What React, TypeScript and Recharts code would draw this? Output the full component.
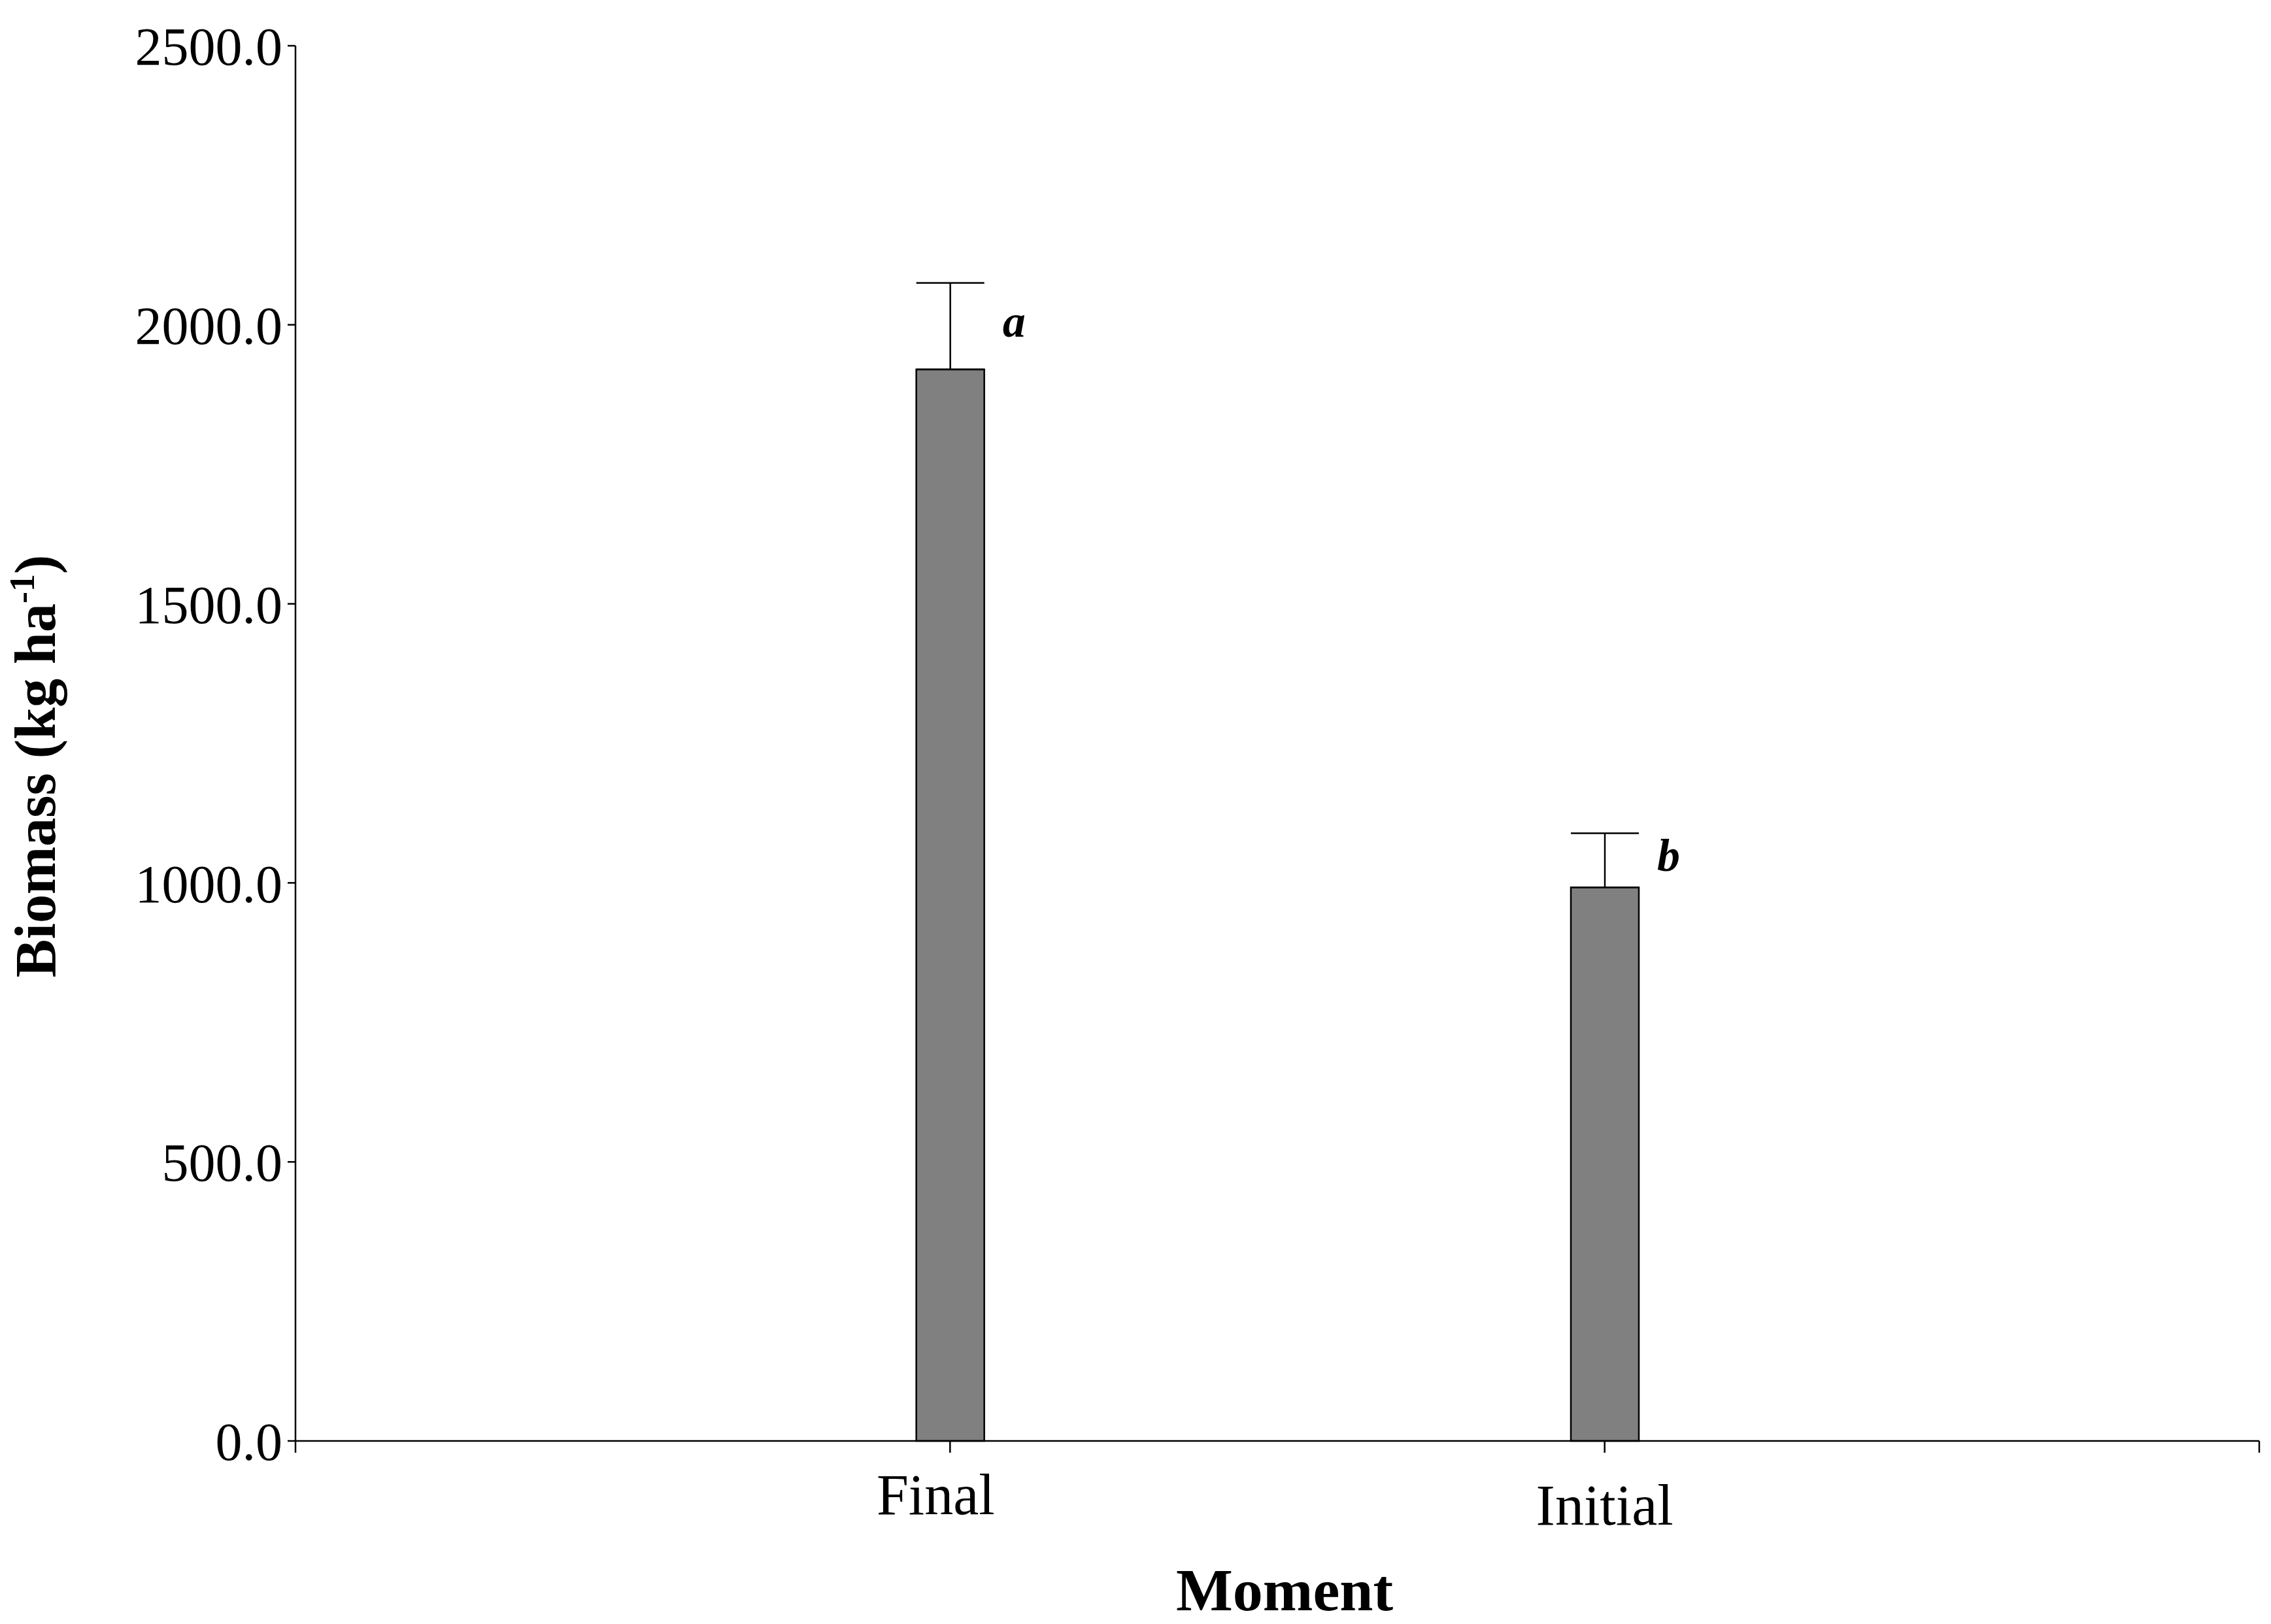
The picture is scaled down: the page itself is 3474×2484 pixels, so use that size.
import React from 'react';
import { BarChart, Bar, XAxis, YAxis, ErrorBar, LabelList } from 'recharts';

document.body.style.margin = '0';

const moments = ['Final', 'Initial'];
const momentPos = [1, 2];
const biomass = [1920, 992];
const errorUp = [155, 97];
const letters = ['a', 'b'];
const yTicks = [0, 500, 1000, 1500, 2000, 2500];
const xTicks = [0, 1, 2, 3];

const data = moments.map((m, i) => ({
  pos: momentPos[i],
  name: m,
  value: biomass[i],
  err: [0, errorUp[i]],
  letter: letters[i],
}));

const FONT = '"Liberation Serif", "Times New Roman", serif';

// per-label nudges so the category labels sit like the original export
const tickNudge: Record<string, { dx: number; dy: number }> = {
  Final: { dx: -22, dy: 112 },
  Initial: { dx: 0, dy: 128 },
};

function MomentTick(props: any) {
  const { x, payload } = props;
  const idx = momentPos.indexOf(payload.value);
  if (idx < 0) return null;
  const name = moments[idx];
  const n = tickNudge[name];
  return (
    <text x={x + n.dx} y={2204 + n.dy} textAnchor="middle" fontFamily={FONT} fontSize={88} fill="#000">
      {name}
    </text>
  );
}

function LetterLabel(props: any) {
  const { x, y, width, height, index } = props;
  const errPx = (errorUp[index] * height) / biomass[index];
  return (
    <text
      x={x + width + 28}
      y={y - errPx / 2 + 16}
      fontFamily={FONT}
      fontSize={70}
      fontWeight="bold"
      fontStyle="italic"
      fill="#000"
    >
      {letters[index]}
    </text>
  );
}

function YLabel() {
  return (
    <text
      x={84}
      y={1172}
      transform="rotate(-90, 84, 1172)"
      textAnchor="middle"
      fontFamily={FONT}
      fontSize={88}
      fontWeight="bold"
      fill="#000"
    >
      Biomass (kg ha
      <tspan fontSize={54} dy={-32}>-1</tspan>
      <tspan dy={32}>)</tspan>
    </text>
  );
}

export default function App() {
  return (
    <div style={{ background: '#fff', width: 3474, height: 2484 }}>
      <BarChart
        width={3474}
        height={2484}
        data={data}
        margin={{ top: 70, right: 18, left: 0, bottom: 0 }}
      >
        <XAxis
          dataKey="pos"
          type="number"
          domain={[0, 3]}
          ticks={xTicks}
          interval={0}
          height={280}
          tickSize={18}
          stroke="#000"
          strokeWidth={2.5}
          tick={<MomentTick />}
          label={{
            value: 'Moment',
            position: 'insideBottom',
            offset: 21,
            dx: 11,
            fontFamily: FONT,
            fontSize: 92,
            fontWeight: 'bold',
            fill: '#000',
          }}
        />
        <YAxis
          domain={[0, 2500]}
          ticks={yTicks}
          interval={0}
          width={452}
          tickSize={12}
          tickMargin={8}
          stroke="#000"
          strokeWidth={2.5}
          tickFormatter={(v: number) => v.toFixed(1)}
          tick={{ fontFamily: FONT, fontSize: 82, fill: '#000' }}
          label={<YLabel />}
        />
        <Bar
          dataKey="value"
          barSize={104}
          fill="#808080"
          stroke="#000"
          strokeWidth={2.5}
          isAnimationActive={false}
        >
          <ErrorBar dataKey="err" direction="y" width={52} stroke="#000" strokeWidth={2.5} />
          <LabelList dataKey="letter" content={<LetterLabel />} />
        </Bar>
      </BarChart>
    </div>
  );
}
